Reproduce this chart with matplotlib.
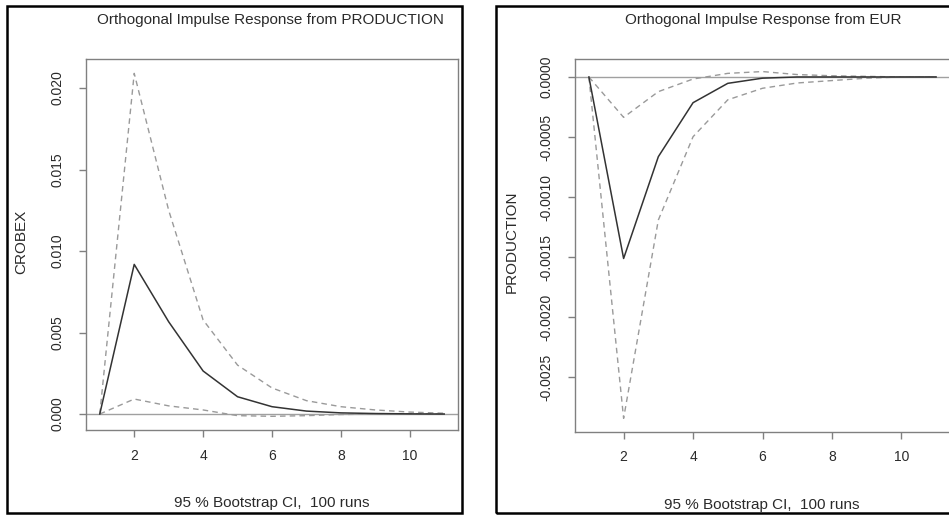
import matplotlib
matplotlib.use("Agg")
import matplotlib.pyplot as plt
from matplotlib.patches import Rectangle

plt.rcParams['font.family'] = ['Liberation Sans', 'DejaVu Sans']

horizon = [1, 2, 3, 4, 5, 6, 7, 8, 9, 10, 11]

# Left panel: response of CROBEX to PRODUCTION
left_irf = [0.0, 0.00918, 0.00566, 0.00264, 0.00106, 0.00045, 0.00018, 0.00007, 0.00003, 0.00001, 0.0]
left_upper = [0.0, 0.0209, 0.0125, 0.00577, 0.0030, 0.0016, 0.00082, 0.00045, 0.00025, 0.00012, 0.00005]
left_lower = [0.0, 0.00092, 0.0005, 0.00025, -0.0001, -0.00014, -0.0001, -0.00003, 0.0, 0.00001, 0.0]

# Right panel: response of PRODUCTION to EUR
right_irf = [0.0, -0.00151, -0.000663, -0.000214, -0.000053, -0.00001, 0.0, 0.0, 0.0, 0.0, 0.0]
right_upper = [0.0, -0.000336, -0.000122, -0.000017, 0.00003, 0.000045, 0.00002, 0.00001, 0.000005, 0.0, 0.0]
right_lower = [0.0, -0.00284, -0.00119, -0.000497, -0.00019, -0.000094, -0.00005, -0.00003, -0.00001, 0.0, 0.0]

x_ticks = [2, 4, 6, 8, 10]
left_yticks = [0.0, 0.005, 0.010, 0.015, 0.020]
left_ytick_labels = ["0.000", "0.005", "0.010", "0.015", "0.020"]
right_yticks = [0.0, -0.0005, -0.0010, -0.0015, -0.0020, -0.0025]
right_ytick_labels = ["0.0000", "-0.0005", "-0.0010", "-0.0015", "-0.0020", "-0.0025"]

left_title = "Orthogonal Impulse Response from PRODUCTION"
right_title = "Orthogonal Impulse Response from EUR"
left_ylabel = "CROBEX"
right_ylabel = "PRODUCTION"
xlabel_text = "95 % Bootstrap CI,  100 runs"

W, H = 949, 515
fig = plt.figure(figsize=(W / 100, H / 100), dpi=100)
fig.patch.set_facecolor("white")

TXT = "#2a2a2a"
AX = "#808080"
DASH = "#9a9a9a"
SOLID = "#333333"


def px_axes(x0, y0, x1, y1):
    return fig.add_axes([x0 / W, 1 - y1 / H, (x1 - x0) / W, (y1 - y0) / H])


def style(ax, yticks, ylabels, ylim):
    ax.set_xlim(0.6, 11.4)
    ax.set_ylim(*ylim)
    for s in ax.spines.values():
        s.set_color(AX)
        s.set_linewidth(1.0)
    ax.set_xticks(x_ticks)
    ax.set_xticklabels([str(t) for t in x_ticks])
    ax.set_yticks(yticks)
    ax.set_yticklabels(ylabels, rotation=90, va="center")
    ax.tick_params(axis="both", direction="out", length=5, width=1.0,
                   color=AX, labelcolor=TXT, labelsize=10)
    ax.tick_params(axis="y", pad=10.5)
    ax.tick_params(axis="x", pad=8.5)


def draw(ax, irf, up, lo):
    ax.axhline(0, color="#a0a0a0", lw=1.0, zorder=1)
    ax.plot(horizon, up, color=DASH, lw=1.0, dashes=(4, 3), zorder=2)
    ax.plot(horizon, lo, color=DASH, lw=1.0, dashes=(4, 3), zorder=2)
    ax.plot(horizon, irf, color=SOLID, lw=1.1, zorder=3)


# panel frames
fig.patches.append(Rectangle((7 / W, 1 - 513 / H), (462 - 7) / W, (513 - 6) / H,
                             transform=fig.transFigure, fill=False,
                             edgecolor="black", lw=1.8))
fig.patches.append(Rectangle((496 / W, 1 - 513 / H), (953 - 496) / W, (513 - 6) / H,
                             transform=fig.transFigure, fill=False,
                             edgecolor="black", lw=1.8))

axL = px_axes(86, 59, 458, 430)
draw(axL, left_irf, left_upper, left_lower)
style(axL, left_yticks, left_ytick_labels, (-0.00098, 0.02178))

axR = px_axes(575, 58.7, 950, 431.7)
draw(axR, right_irf, right_upper, right_lower)
style(axR, right_yticks, right_ytick_labels, (-0.002951, 0.000152))

fig.text(21 / W, 1 - 242 / H, left_ylabel, rotation=90, ha="center", va="center",
         fontsize=11, color=TXT)
fig.text(512 / W, 1 - 242 / H, right_ylabel, rotation=90, ha="center", va="center",
         fontsize=11, color=TXT)

fig.text(270 / W, 1 - 20 / H, left_title, ha="center", va="center", fontsize=11, color=TXT)
fig.text(763 / W, 1 - 20 / H, right_title, ha="center", va="center", fontsize=11, color=TXT)
fig.text(272 / W, 1 - 503 / H, xlabel_text, ha="center", va="center", fontsize=11, color=TXT)
fig.text(762 / W, 1 - 505 / H, xlabel_text, ha="center", va="center", fontsize=11, color=TXT)

fig.savefig("out.png", dpi=100)
